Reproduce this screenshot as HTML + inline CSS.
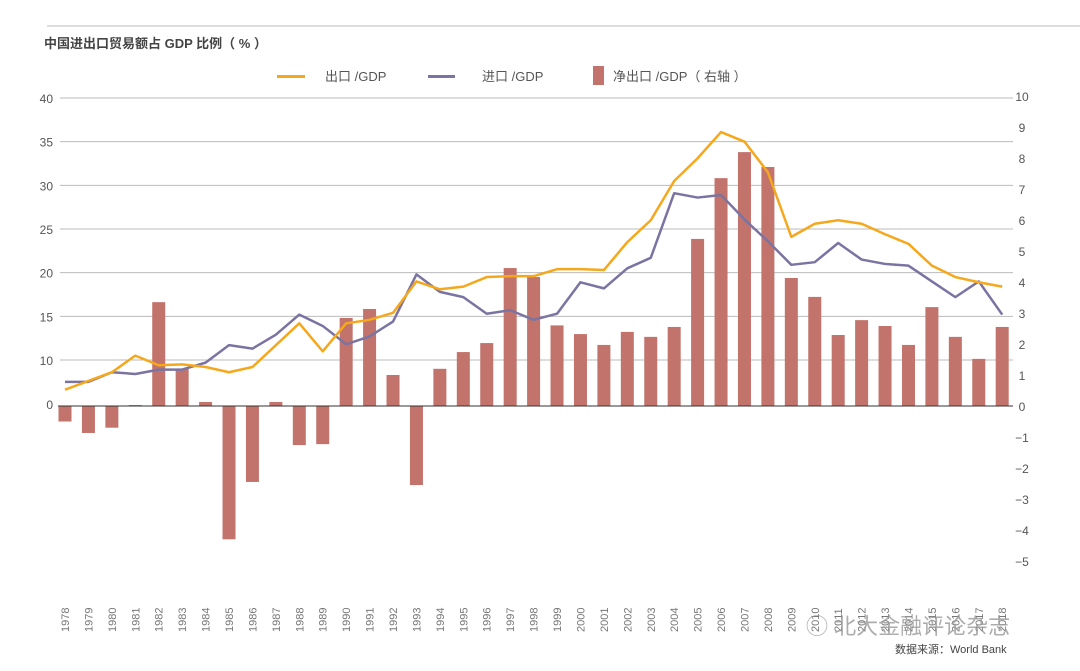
<!DOCTYPE html>
<html><head><meta charset="utf-8">
<style>
body{margin:0;background:#fff;}
svg{display:block;font-family:"Liberation Sans","Noto Sans CJK SC",sans-serif;}
</style></head>
<body>
<svg id="chart" width="1080" height="671" viewBox="0 0 1080 671" xmlns="http://www.w3.org/2000/svg">
<line x1="47" y1="26" x2="1080" y2="26" stroke="#bbb" stroke-width="1"/>
<text x="44" y="48" font-size="13" font-weight="bold" fill="#444">中国进出口贸易额占 GDP 比例（ % ）</text>
<g>
  <rect x="277" y="75" width="28" height="3" fill="#F5A81C"/>
  <text x="325" y="81" font-size="13" fill="#555">出口 /GDP</text>
  <rect x="428" y="75" width="27" height="3" fill="#7B73A1"/>
  <text x="482" y="81" font-size="13" fill="#555">进口 /GDP</text>
  <rect x="593" y="66" width="11" height="19" fill="#C2736B"/>
  <text x="613" y="81" font-size="13" fill="#555">净出口 /GDP（ 右轴 ）</text>
</g>
<g id="grid"></g>
<g id="bars"></g>
<g id="lines"></g>
<g id="axes"></g>
<text x="806" y="634" font-size="22" fill="#999" fill-opacity="0.8">◯ 北大金融评论杂志</text>
<text x="895" y="653" font-size="11" fill="#444">数据来源：World Bank</text>
</svg>
<script>
const years = [];
for (let y = 1978; y <= 2018; y++) years.push(y);
const exportsGDP = [6.6,7.6,8.6,10.5,9.4,9.5,9.2,8.6,9.2,11.7,14.2,11.0,14.2,14.6,15.4,19.0,18.1,18.4,19.5,19.6,19.6,20.4,20.4,20.3,23.5,26.0,30.5,33.1,36.1,35.0,31.5,24.1,25.6,26.0,25.6,24.4,23.3,20.8,19.5,18.9,18.4];
const importsGDP = [7.5,7.5,8.6,8.4,8.9,8.9,9.7,11.7,11.3,12.9,15.2,13.9,11.8,12.7,14.4,19.8,17.8,17.2,15.3,15.7,14.6,15.3,18.9,18.2,20.5,21.7,29.1,28.6,28.9,26.1,23.6,20.9,21.2,23.4,21.5,21.0,20.8,19.0,17.2,19.0,15.2];
const netExportsGDP = [-0.5,-0.87,-0.7,0.03,3.35,1.2,0.13,-4.3,-2.45,0.13,-1.26,-1.23,2.84,3.13,1.0,-2.55,1.2,1.74,2.03,4.45,4.16,2.6,2.32,1.97,2.39,2.23,2.55,5.39,7.35,8.19,7.71,4.13,3.52,2.29,2.77,2.58,1.97,3.19,2.23,1.52,2.55];
const leftTicks = [10,15,20,25,30,35,40];
const rightTicks = [10,9,8,7,6,5,4,3,2,1,0,-1,-2,-3,-4,-5];

const NS = "http://www.w3.org/2000/svg";
const x = i => 65 + i * 23.43;
const yL = v => 360 - (v - 10) * 8.733;
const yR = v => 406 - v * 31;
function mk(tag, attrs, parent) {
  const e = document.createElementNS(NS, tag);
  for (const k in attrs) e.setAttribute(k, attrs[k]);
  parent.appendChild(e);
  return e;
}
const grid = document.getElementById('grid');
const axes = document.getElementById('axes');
const bars = document.getElementById('bars');
const lines = document.getElementById('lines');

leftTicks.forEach(t => {
  const l = mk('line', {x1: 60, x2: 1013, y1: yL(t), y2: yL(t), stroke: '#bbb', 'stroke-width': 1}, grid);
  
  
  const tx = mk('text', {x: 53, y: yL(t) + 5, 'font-size': 12, fill: '#555', 'text-anchor': 'end'}, axes);
  tx.textContent = t;
  
  
});
const zl = mk('text', {x: 53, y: 409, 'font-size': 12, fill: '#555', 'text-anchor': 'end'}, axes);
zl.textContent = '0';



rightTicks.forEach(t => {
  const tx = mk('text', {x: 1022, y: yR(t) + 5, 'font-size': 12, fill: '#555', 'text-anchor': 'middle'}, axes);
  tx.textContent = t < 0 ? '\u2212' + Math.abs(t) : String(t);
  
  
});

netExportsGDP.forEach((v, i) => {
  const y0 = yR(0), y1 = yR(v);
  const r = mk('rect', {x: x(i) - 6.5, y: Math.min(y0, y1), width: 13, height: Math.abs(y1 - y0), fill: '#C2736B'}, bars);
  
  
});
const base = mk('line', {x1: 58, x2: 1013, y1: yR(0), y2: yR(0), stroke: '#333', 'stroke-width': 1}, bars);



function series(vals, color, name) {
  const p = mk('polyline', {points: vals.map((v, i) => x(i) + ',' + yL(v)).join(' '), fill: 'none', stroke: color, 'stroke-width': 2.5, 'stroke-linejoin': 'round'}, lines);
  
  
}
series(importsGDP, '#7B73A1', 'imports-line');
series(exportsGDP, '#F5A81C', 'exports-line');

years.forEach((yr, i) => {
  const tx = mk('text', {transform: 'translate(' + (x(i) + 4) + ',632) rotate(-90)', 'font-size': 11, fill: '#777', 'text-anchor': 'start'}, axes);
  tx.textContent = yr;
  
  
});
</script>
</body></html>
